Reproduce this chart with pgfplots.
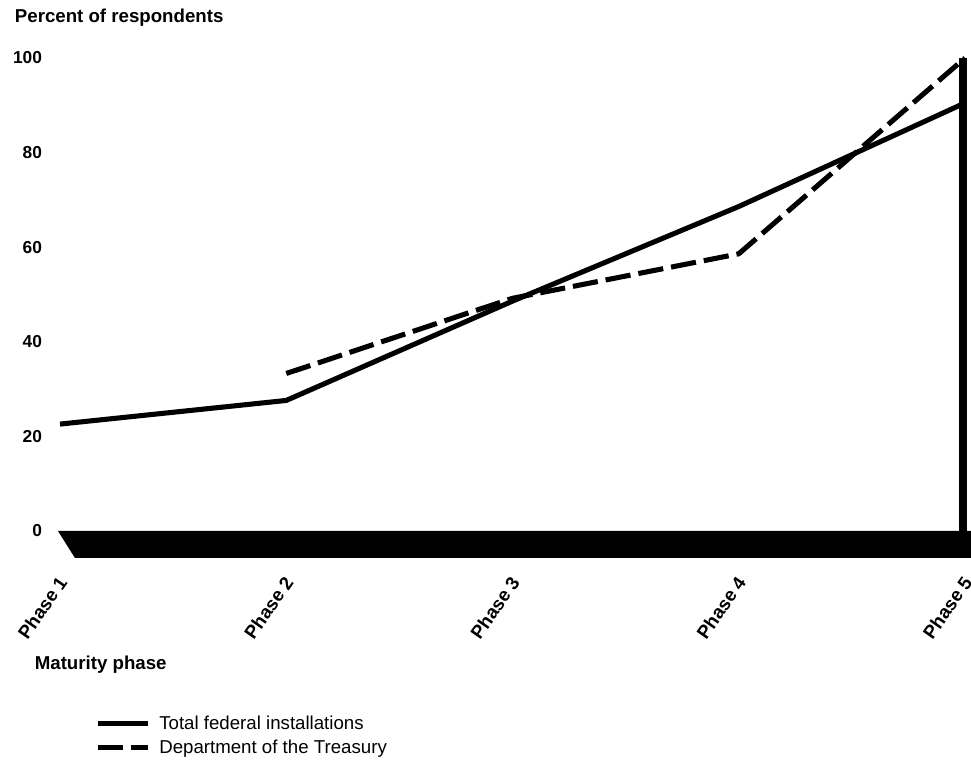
\documentclass[border=0pt]{standalone}
\usepackage{fontspec}
\setmainfont{Liberation Sans}
\usepackage{pgfplots}
\pgfplotsset{compat=1.18}
\begin{document}
\begin{tikzpicture}
  % page = 971 x 766 px at 0.75pt/px, axis origin at px (60,531)
  \useasboundingbox (-45pt,-176.25pt) rectangle (683.25pt,398.25pt);
  \begin{axis}[
    at={(0,0)}, anchor=south west,
    scale only axis,
    width=678.75pt, height=354.75pt,
    xmin=1, xmax=5, ymin=0, ymax=100,
    clip=false,
    axis line style={draw=none},
    major tick length=0pt,
    xtick={1,2,3,4,5},
    xticklabels={Phase 1, Phase 2, Phase 3, Phase 4, Phase 5},
    ytick={0,20,40,60,80,100},
    /pgf/number format/assume math mode=true,
    tick label style={font=\bfseries\fontsize{13}{15}\selectfont},
    xticklabel style={xshift=4pt, yshift=-33pt, rotate=55, anchor=east,
      font=\bfseries\fontsize{14}{16}\selectfont},
    yticklabel style={xshift=-10pt},
    legend style={at={(axis description cs:0.039,-0.385)}, anchor=north west,
      draw=none, fill=none, font=\fontsize{14}{16}\selectfont,
      row sep=2pt, inner sep=0pt},
    legend cell align=left,
    legend image code/.code={\draw[#1] (0pt,0pt) -- (37.5pt,0pt); \path (42pt,0pt);},
  ]
  % base slab and right edge
  \fill[black] (axis cs:0.991,0) -- (axis cs:5.03,0) -- (axis cs:5.03,-5.7) -- (axis cs:1.066,-5.7) -- cycle;
  \draw[black, line width=6pt] (axis cs:4.992,-5.7) -- (axis cs:4.992,100);

  \addplot[black, line width=3.8pt, line join=round] coordinates {(1,22.6) (2,27.6) (3,48.6) (4,68.6) (5,90.5)};
  \addlegendentry{Total federal installations}
  \addplot[black, line width=3.8pt, dash pattern=on 19pt off 6pt] coordinates {(2,33.3) (3,49.2) (4,58.6) (5,100)};
  \addlegendentry{Department of the Treasury}

  \node[anchor=west, font=\bfseries\fontsize{14}{16}\selectfont] at (axis cs:0.78,108.6) {Percent of respondents};
  \node[anchor=west, font=\bfseries\fontsize{14}{16}\selectfont] at (axis cs:0.868,-28.3) {Maturity phase};
  \end{axis}
\end{tikzpicture}
\end{document}
